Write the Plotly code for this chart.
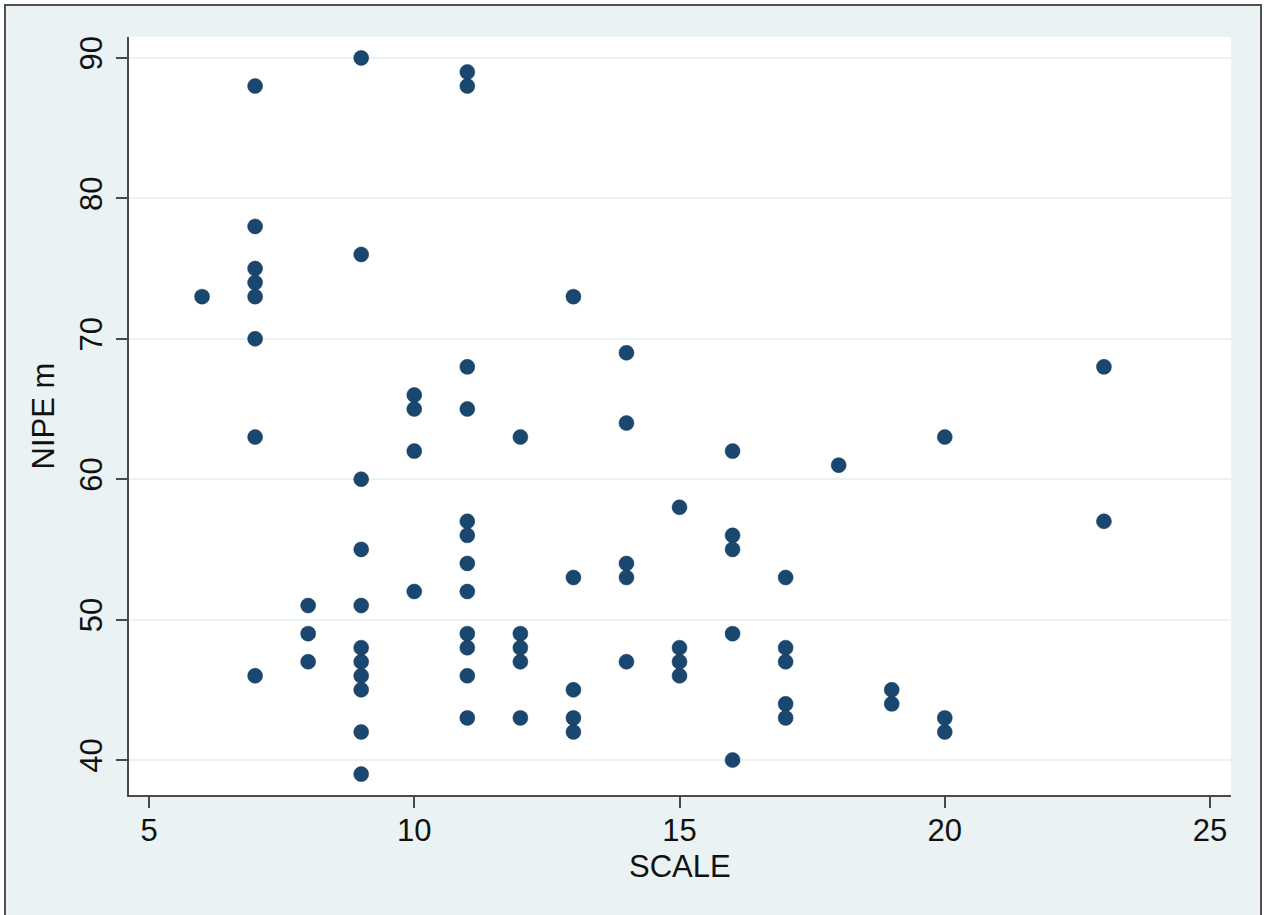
import plotly.graph_objects as go

# data: SCALE value -> list of NIPE m values
scale_6 = [73]
scale_7 = [88, 78, 75, 74, 73, 70, 63, 46]
scale_8 = [51, 49, 47]
scale_9 = [90, 76, 60, 55, 51, 48, 47, 46, 45, 42, 39]
scale_10 = [66, 65, 62, 52]
scale_11 = [89, 88, 68, 65, 57, 56, 54, 52, 49, 48, 46, 43]
scale_12 = [63, 49, 48, 47, 43]
scale_13 = [73, 53, 45, 43, 42]
scale_14 = [69, 64, 54, 53, 47]
scale_15 = [58, 48, 47, 46]
scale_16 = [62, 56, 55, 49, 40]
scale_17 = [53, 48, 47, 44, 43]
scale_18 = [61]
scale_19 = [45, 44]
scale_20 = [63, 43, 42]
scale_23 = [68, 57]

groups = {6: scale_6, 7: scale_7, 8: scale_8, 9: scale_9, 10: scale_10,
          11: scale_11, 12: scale_12, 13: scale_13, 14: scale_14, 15: scale_15,
          16: scale_16, 17: scale_17, 18: scale_18, 19: scale_19, 20: scale_20,
          23: scale_23}

x_vals = []
y_vals = []
for k, vals in groups.items():
    for v in vals:
        x_vals.append(k)
        y_vals.append(v)

x_ticks = [5, 10, 15, 20, 25]
y_ticks = [40, 50, 60, 70, 80, 90]
x_title = "SCALE"
y_title = "NIPE m"

BG = "#EAF2F3"
AXIS = "#4a4a4a"
FONT = "Liberation Sans, Arial, sans-serif"

fig = go.Figure()
fig.add_trace(go.Scatter(
    x=x_vals, y=y_vals, mode="markers",
    marker=dict(size=15, color="#1A476F", line=dict(width=0.5, color="#15395a")),
    showlegend=False, hoverinfo="x+y"))

L, R, T, B = 129, 1231, 37, 795
W, H = 1264, 915

fig.update_layout(
    width=W, height=H,
    margin=dict(l=L, r=W - R, t=T, b=H - B, pad=0),
    paper_bgcolor="white", plot_bgcolor="white",
    font=dict(family=FONT, size=31, color="#111111"),
    xaxis=dict(range=[4.623, 25.395], tickvals=x_ticks, showgrid=False, zeroline=False,
               showline=True, linecolor=AXIS, linewidth=2, ticks="outside", ticklen=11,
               tickwidth=2, tickcolor=AXIS, tickfont=dict(size=31, family=FONT),
               ticklabelstandoff=-4),
    yaxis=dict(range=[37.51, 91.49], tickvals=y_ticks, showgrid=True, gridcolor=BG,
               gridwidth=2, zeroline=False, showline=True, linecolor=AXIS, linewidth=2,
               ticks="outside", ticklen=11, tickwidth=2, tickcolor=AXIS, tickangle=-90,
               tickfont=dict(size=31, family=FONT), ticklabelstandoff=2,
               title=dict(text=y_title, font=dict(size=31, family=FONT), standoff=10)),
)

fig.add_annotation(text=x_title, xref="paper", yref="paper", x=0.5, y=(B - 866) / (B - T),
                   xanchor="center", yanchor="middle", showarrow=False,
                   font=dict(size=31, family=FONT, color="#111111"))

# outer graph region (light fill with dark frame), drawn behind the white plot area
fx0 = (5 - L) / (R - L)
fx1 = (1261 - L) / (R - L)
fy1 = (B - 5) / (B - T)
fy0 = (B - 930) / (B - T)
fig.add_shape(type="rect", xref="paper", yref="paper", x0=fx0, x1=fx1, y0=fy0, y1=fy1,
              line=dict(color="#505050", width=2), fillcolor=BG, layer="below")
fig.add_shape(type="rect", xref="paper", yref="paper", x0=0, x1=1, y0=0, y1=1,
              line=dict(width=0), fillcolor="white", layer="below")

fig.write_html("out.html", config={"displayModeBar": False},
               post_script="document.body.style.margin='0px';")
